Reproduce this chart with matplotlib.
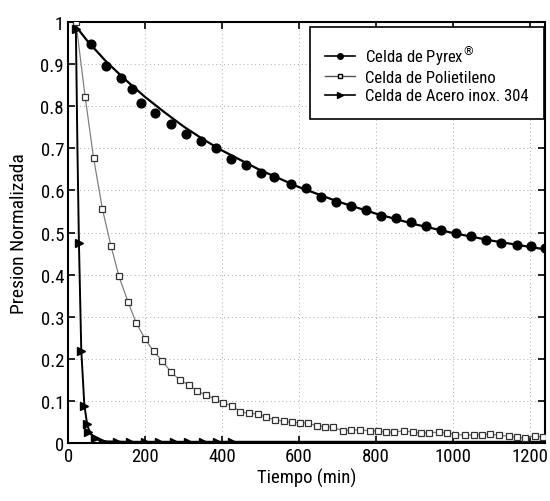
import matplotlib
matplotlib.use('Agg')
from matplotlib import pyplot as plt
from matplotlib.lines import Line2D

plt.rcParams['font.family'] = ['Roboto Condensed', 'Liberation Sans', 'DejaVu Sans']

# Celda de Pyrex: puntos medidos
pyrex_t = [58, 98, 138, 166, 189, 227, 267, 306, 345, 384, 423, 463, 501, 534,
           580, 618, 658, 697, 735, 775, 814, 852, 892, 931, 970, 1009, 1048,
           1087, 1126, 1166, 1204, 1240]
pyrex_p = [0.948, 0.896, 0.868, 0.841, 0.808, 0.785, 0.757, 0.734, 0.717, 0.701,
           0.674, 0.661, 0.642, 0.633, 0.615, 0.605, 0.585, 0.572, 0.563, 0.553,
           0.539, 0.534, 0.526, 0.515, 0.507, 0.500, 0.492, 0.483, 0.476, 0.470,
           0.467, 0.463]
# Celda de Pyrex: curva ajustada
pyrex_fit_t = [20, 50, 100, 150, 200, 250, 300, 350, 400, 500, 600, 700, 800,
               900, 1000, 1100, 1240]
pyrex_fit_p = [0.99, 0.955, 0.905, 0.862, 0.822, 0.786, 0.752, 0.722, 0.695,
               0.648, 0.608, 0.574, 0.545, 0.520, 0.499, 0.481, 0.460]

# Celda de Polietileno
poli_t = [20, 44, 66, 89, 111, 132, 156, 177, 200, 222, 244, 268, 290, 313, 335,
          358, 381, 403, 426, 448, 470, 493, 515, 538, 560, 581, 603, 624, 646,
          668, 689, 715, 736, 758, 784, 805, 827, 848, 874, 896, 917, 939, 964,
          986, 1007, 1033, 1055, 1076, 1098, 1119, 1145, 1166, 1188, 1214, 1235]
poli_p = [1.0, 0.823, 0.677, 0.556, 0.469, 0.396, 0.334, 0.285, 0.247, 0.218,
          0.196, 0.168, 0.150, 0.138, 0.124, 0.114, 0.105, 0.095, 0.089, 0.074,
          0.071, 0.069, 0.061, 0.055, 0.052, 0.049, 0.048, 0.047, 0.041, 0.039,
          0.037, 0.029, 0.031, 0.031, 0.029, 0.028, 0.026, 0.026, 0.029, 0.026,
          0.024, 0.024, 0.026, 0.024, 0.020, 0.019, 0.019, 0.020, 0.021, 0.019,
          0.016, 0.014, 0.012, 0.017, 0.014]

# Celda de Acero inox. 304
acero_t = [20, 28, 34, 42, 48, 52, 70, 91, 126, 162, 199, 237, 274, 312, 351, 388, 427]
acero_p = [0.983, 0.474, 0.219, 0.089, 0.045, 0.027, 0.011, 0.003, 0.003, 0.003,
           0.003, 0.003, 0.003, 0.003, 0.003, 0.003, 0.003]
acero_fit_t = [20, 24, 28, 34, 42, 50, 60, 75, 100, 150, 1240]
acero_fit_p = [0.98, 0.70, 0.47, 0.22, 0.09, 0.04, 0.02, 0.008, 0.004, 0.003, 0.003]

fig = plt.figure(figsize=(5.5, 5.02), dpi=100)
ax = fig.add_axes([0.124, 0.1155, 0.867, 0.8385])

ax.plot(poli_t, poli_p, color='#808080', lw=0.9, zorder=2)
ax.plot(poli_t, poli_p, ls='none', marker='s', ms=4.4, mfc='white', mec='#333333',
        mew=0.9, zorder=3)
ax.plot(acero_fit_t, acero_fit_p, color='black', lw=1.4, zorder=2)
ax.plot(acero_t, acero_p, ls='none', marker='>', ms=6, color='black', zorder=4)
ax.plot(pyrex_fit_t, pyrex_fit_p, color='black', lw=1.6, zorder=2)
ax.plot(pyrex_t, pyrex_p, ls='none', marker='o', ms=6.3, color='black', zorder=4)

ax.set_xlim(0, 1240)
ax.set_ylim(0, 1)
ax.set_xticks(range(0, 1201, 200))
ax.set_yticks([i / 10 for i in range(11)])
ax.set_yticklabels(['0'] + ['%.1f' % (i / 10) for i in range(1, 10)] + ['1'])
ax.grid(True, ls=(0, (1, 3)), color='#aaaaaa', lw=0.7)
ax.tick_params(direction='in', top=True, right=True, length=5, width=1.2,
               labelsize=13.5, pad=3)
for s in ax.spines.values():
    s.set_linewidth(1.5)

ax.set_xlabel('Tiempo (min)', fontsize=13.5, labelpad=2)
ax.set_ylabel('Presion Normalizada', fontsize=14, labelpad=9)

handles = [
    Line2D([], [], color='black', lw=1.2, marker='o', ms=4),
    Line2D([], [], color='#555555', lw=1.0, marker='s', ms=3.5, mfc='white', mec='black'),
    Line2D([], [], color='black', lw=1.2, marker='>', ms=5),
]
labels = ['Celda de Pyrex$^{\u00ae}$', 'Celda de Polietileno', 'Celda de Acero inox. 304']
leg = ax.legend(handles, labels, loc='upper right', bbox_to_anchor=(0.998, 0.988),
                fontsize=12, frameon=True, fancybox=False, framealpha=1,
                edgecolor='black', borderaxespad=0, handlelength=1.75,
                handletextpad=0.6, labelspacing=0.2, borderpad=0.95)
leg.get_frame().set_linewidth(1.2)

fig.savefig('out.png', dpi=100)
